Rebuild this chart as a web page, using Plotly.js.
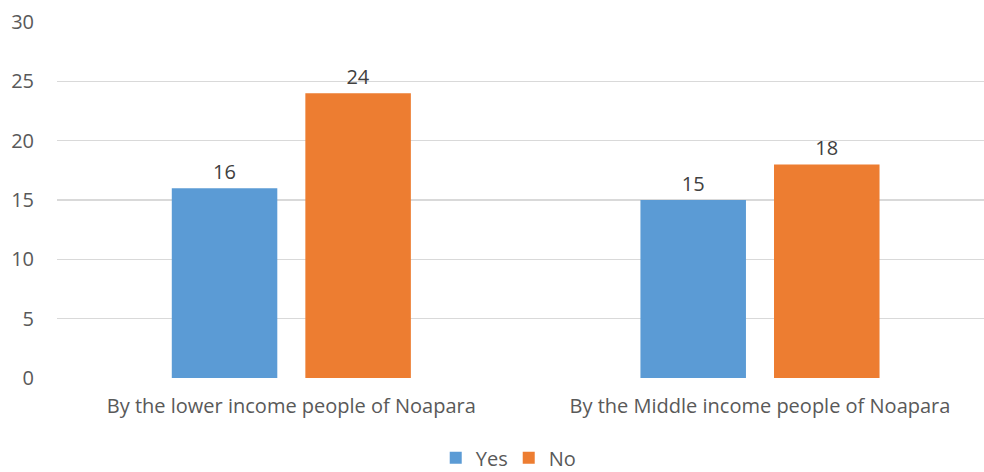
<!DOCTYPE html>
<html><head><meta charset="utf-8">
<script src="https://cdn.plot.ly/plotly-3.0.1.min.js"></script>
<style>body{margin:0;background:#fff}#c{width:984px;height:472px}</style>
</head><body><div id="c"></div>
<script>
const categories = ["By the lower income people of Noapara", "By the Middle income people of Noapara"];
const yesValues = [16, 15];
const noValues = [24, 18];
const yTicks = [0, 5, 10, 15, 20, 25, 30];

const fontFam = "Open Sans, Liberation Sans, sans-serif";
const FS = 20;
const traces = [
  {type: "bar", name: "Yes", x: categories, y: yesValues, marker: {color: "#5B9BD5"},
   text: yesValues.map(String), textposition: "outside", cliponaxis: false,
   textfont: {family: fontFam, size: FS, color: "#404040"}},
  {type: "bar", name: "No", x: categories, y: noValues, marker: {color: "#ED7D31"},
   text: noValues.map(String), textposition: "outside", cliponaxis: false,
   textfont: {family: fontFam, size: FS, color: "#404040"}}
];
const layout = {
  width: 984, height: 472,
  margin: {l: 57, r: 0, t: 22, b: 94, autoexpand: false},
  paper_bgcolor: "#fff", plot_bgcolor: "#fff",
  barmode: "group", bargap: 0.43, bargroupgap: 0.21,
  font: {family: fontFam, size: FS, color: "#595959"},
  xaxis: {type: "category", range: [-0.5, 1.478], showgrid: false, zeroline: false,
          showline: false, ticks: "", ticklabelstandoff: 14, automargin: false,
          tickfont: {size: FS, color: "#595959"}},
  yaxis: {range: [0, 30], tickvals: yTicks, ticktext: yTicks.map(String),
          showgrid: true, gridcolor: "#D9D9D9", gridwidth: 1.5, zeroline: false,
          showline: false, ticks: "", ticklabelstandoff: 22, automargin: false,
          tickfont: {size: FS, color: "#595959"}},
  showlegend: true,
  legend: {orientation: "h", x: 0.517, xanchor: "center", xref: "container",
           y: 0.03, yanchor: "middle", yref: "container",
           font: {size: FS, color: "#595959"}, itemwidth: 30, entrywidth: 28,
           traceorder: "normal"}
};
Plotly.newPlot("c", traces, layout, {displayModeBar: false, staticPlot: true});
</script></body></html>
